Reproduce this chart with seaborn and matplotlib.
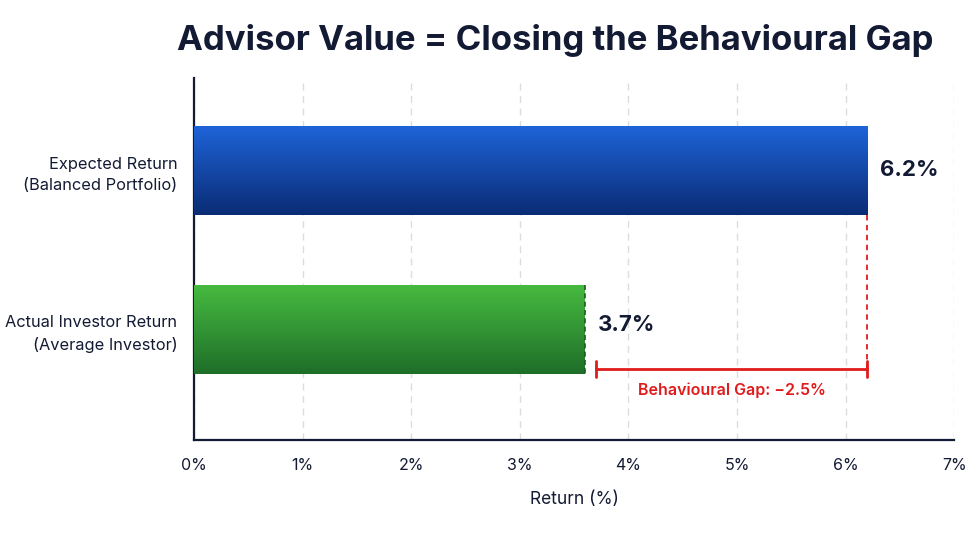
import numpy as np
import pandas as pd
import seaborn as sns
import matplotlib.pyplot as plt
from matplotlib.colors import LinearSegmentedColormap

# data
categories = ['Expected Return\n(Balanced Portfolio)', 'Actual Investor Return\n(Average Investor)']
bar_values = [6.2, 3.6]
label_values = [6.2, 3.7]
gap_value = -2.5
x_ticks = [0, 1, 2, 3, 4, 5, 6, 7]

df = pd.DataFrame({'category': categories, 'value': bar_values})

sns.set_theme(style='white')
plt.rcParams['font.family'] = ['Inter', 'DejaVu Sans']
navy = '#131a33'

fig = plt.figure(figsize=(9.77, 5.43), dpi=100)
ax = fig.add_axes([0.1986, 0.1897, 0.778, 0.6667])

sns.barplot(data=df, x='value', y='category', hue='category', palette=['#1a55c4', '#35a035'],
            width=0.56, legend=False, ax=ax, zorder=3)

# gradient fill for each bar
grads = [('#1e64da', '#0a2c74'), ('#47bb40', '#1e6e29')]
for patch, (top, bot) in zip(ax.patches, grads):
    x0, y0 = patch.get_x(), patch.get_y()
    w, h = patch.get_width(), patch.get_height()
    cmap = LinearSegmentedColormap.from_list('g', [top, bot])
    grad = np.linspace(0, 1, 256).reshape(-1, 1)
    im = ax.imshow(grad, cmap=cmap, aspect='auto', extent=[x0, x0 + w, y0 + h, y0],
                   zorder=4, interpolation='bicubic')
    im.set_clip_path(patch)
    patch.set_edgecolor('none')

# dashed dark edge at the green bar end
gp = ax.patches[1]
ax.plot([gp.get_width()] * 2, [gp.get_y(), gp.get_y() + gp.get_height()], ls=(0, (3, 2)),
        color='#1b5e22', lw=1.2, zorder=5)

ax.set_xlim(0, 7)
ax.set_ylim(1.695, -0.58)
ax.set_xticks(x_ticks)
ax.set_xticklabels([f'{t}%' for t in x_ticks], fontsize=11.5, color=navy)
ax.tick_params(axis='x', length=5, width=1.2, color=navy, pad=8)
ax.tick_params(axis='y', length=0, labelsize=11.8, labelcolor=navy, pad=12)
for lab in ax.get_yticklabels():
    lab.set_horizontalalignment('right')
    lab.set_multialignment('right')
    lab.set_linespacing(1.5)
ax.set_ylabel('')
ax.set_xlabel('Return (%)', fontsize=12.5, color=navy, labelpad=13)

ax.grid(axis='x', color='#dddddd', ls=(0, (5, 4)), lw=1, zorder=0)
ax.set_axisbelow(True)
for s in ['top', 'right']:
    ax.spines[s].set_visible(False)
for s in ['left', 'bottom']:
    ax.spines[s].set_color(navy)
    ax.spines[s].set_linewidth(1.6)

# value labels
for i, v in enumerate(label_values):
    ax.text(bar_values[i] + 0.12, i - 0.03 if i else i, f'{v}%', va='center', ha='left',
            fontsize=16, fontweight='bold', color=navy)

# behavioural gap bracket
start, end = label_values[1], label_values[0]
yb = 1.25
red = '#e01b1b'
ax.plot([end, end], [0.28, yb], color=red, ls=(0, (3, 2.5)), lw=1.3, zorder=2)
ax.plot([start, end], [yb, yb], color=red, lw=2, zorder=5)
for xx in (start, end):
    ax.plot([xx, xx], [yb - 0.05, yb + 0.05], color=red, lw=2, zorder=5)
ax.text((start + end) / 2, yb + 0.13, f'Behavioural Gap: \u2212{abs(gap_value)}%', ha='center',
        va='center', fontsize=11.5, color=red, fontweight='semibold')

fig.text(0.568, 0.925, 'Advisor Value = Closing the Behavioural Gap', ha='center', va='center',
         fontsize=25, fontweight='bold', color=navy)

plt.savefig('out.png', dpi=100)
